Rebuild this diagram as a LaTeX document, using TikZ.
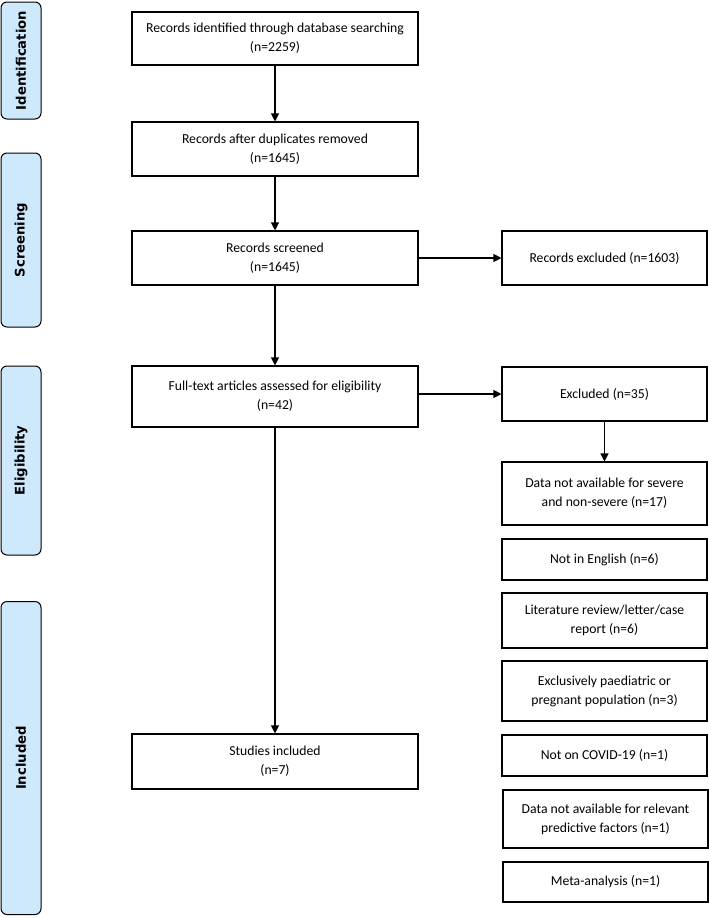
\documentclass[tikz,border=0pt]{standalone}
\usepackage{fontspec}
\setmainfont{Carlito}
\newfontfamily\phasefont{DejaVu Sans}
\usetikzlibrary{arrows.meta}

\definecolor{phaseblue}{RGB}{207,233,252}

\begin{document}
\begin{tikzpicture}[x=1pt, y=-1pt,
    mainbox/.style={draw=black, line width=1.1pt, minimum width=286pt, align=center,
      font=\fontsize{13.7}{19}\selectfont},
    sidebox/.style={draw=black, line width=1.1pt, minimum width=205pt, align=center,
      font=\fontsize{13.7}{19}\selectfont},
    phase/.style={draw=black, line width=1pt, fill=phaseblue, rounded corners=6pt,
      rotate=90, minimum height=40pt, font=\phasefont\bfseries\fontsize{13.2}{15}\selectfont},
    arr/.style={line width=1.1pt, -{Triangle[length=8pt,width=8pt]}}]
    \useasboundingbox (0,0) rectangle (709,918);
    % phases
    \node[phase, minimum width=117pt] (pid) at (21,60.5) {Identification};
    \node[phase, minimum width=174pt] (pscr) at (21,240) {Screening};
    \node[phase, minimum width=189pt] (pelig) at (21,460.5) {Eligibility};
    \node[phase, minimum width=313pt] (pinc) at (21,758) {Included};
    % main column
    \node[mainbox, minimum height=53pt] (ident) at (275,38.5) {Records identified through database searching\\(n=2259)};
    \node[mainbox, minimum height=54pt] (dupl) at (275,149) {Records after duplicates removed\\(n=1645)};
    \node[mainbox, minimum height=54pt] (screen) at (275,258) {Records screened\\(n=1645)};
    \node[mainbox, minimum height=61pt] (full) at (275,396.5) {Full-text articles assessed for eligibility\\(n=42)};
    \node[mainbox, minimum height=55pt] (incl) at (275,761.5) {Studies included\\(n=7)};
    % exclusions
    \node[sidebox, minimum height=54pt] (excl) at (604.5,258) {Records excluded (n=1603)};
    \node[sidebox, minimum height=54pt] (exclb) at (604.5,394) {Excluded (n=35)};
    \node[sidebox, minimum height=63pt] (why1) at (604.5,493.5) {Data not available for severe\\and non-severe (n=17)};
    \node[sidebox, minimum height=41pt] (why2) at (604.5,559.5) {Not in English (n=6)};
    \node[sidebox, minimum height=55pt] (why3) at (604.5,620.5) {Literature review/letter/case\\report (n=6)};
    \node[sidebox, minimum height=60pt] (why4) at (604.5,691) {Exclusively paediatric or\\pregnant population (n=3)};
    \node[sidebox, minimum height=41pt] (why5) at (604.5,755.5) {Not on COVID-19 (n=1)};
    \node[sidebox, minimum height=58pt] (why6) at (605.5,819) {Data not available for relevant\\predictive factors (n=1)};
    \node[sidebox, minimum height=40pt] (why7) at (605.5,882) {Meta-analysis (n=1)};
    % arrows
    \draw[arr] (ident) -- (dupl);
    \draw[arr] (dupl) -- (screen);
    \draw[arr] (screen) -- (full);
    \draw[arr] (full) -- (incl);
    \draw[arr] (screen) -- (excl);
    \draw[arr] (full.east |- exclb.west) -- (exclb.west);
    \draw[arr] (exclb) -- (why1);
\end{tikzpicture}
\end{document}
